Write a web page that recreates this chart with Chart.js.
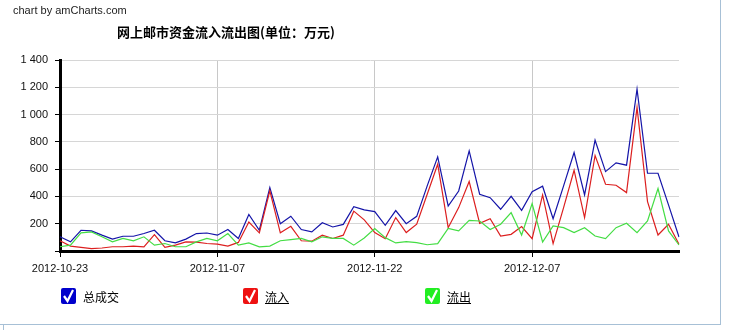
<!DOCTYPE html>
<html>
<head>
<meta charset="utf-8">
<script src="https://cdn.jsdelivr.net/npm/chart.js@4"></script>
<style>
  body { margin: 0; background: #fff; font-family: "Liberation Sans", Arial, sans-serif; }
  #wrap { position: relative; width: 739px; height: 330px; overflow: hidden; }
  #frame { position: absolute; left: -2px; top: -2px; width: 722px; height: 326px; border-right: 1px solid #a7c0d6; border-bottom: 1px solid #a7c0d6; }
  #stub { position: absolute; left: 3px; top: 325px; width: 1px; height: 6px; background: #a7c0d6; }
  canvas { position: absolute; left: 0; top: 0; }
  .credit { position: absolute; left: 13px; top: 4px; font-size: 11px; color: #222; }
  .title { position: absolute; left: 117px; top: 22px; font-size: 13px; font-weight: bold; color: #000;
           font-family: "Noto Sans CJK SC", sans-serif; }
  .legend-item { position: absolute; top: 288px; height: 16px; font-size: 12px; color: #000;
                 font-family: "Noto Sans CJK SC", sans-serif; }
  .legend-item .box { position: absolute; left: 0; top: 0; width: 15px; height: 16px; border-radius: 2px; }
  .legend-item .txt { position: absolute; left: 22px; top: 0; line-height: 17px; white-space: nowrap; }
</style>
</head>
<body>
<div id="wrap">
  <div id="frame"></div>
  <div id="stub"></div>
  <canvas id="flowChart" width="739" height="330"></canvas>
  <div class="credit">chart by amCharts.com</div>
  <div class="title">网上邮市资金流入流出图(单位：万元)</div>
  <div id="legend"></div>
</div>
<script>
// dates 2012-10-23 .. 2012-12-21, one point per day
const startDate = new Date(2012, 9, 23);
const dates = [];
for (let i = 0; i < 60; i++) {
  const d = new Date(startDate.getTime() + i * 86400000);
  dates.push(d.getFullYear() + '-' + String(d.getMonth() + 1).padStart(2, '0') + '-' + String(d.getDate()).padStart(2, '0'));
}

const seriesNames = ['总成交', '流入', '流出'];
const seriesColors = ['#1414a8', '#dc1f1f', '#44dd44'];
const legendColors = ['#0000cc', '#ee1111', '#22ee22'];

const total = [104, 67, 152, 147, 116, 87, 108, 108, 128, 152,
               75, 60, 87, 128, 132, 116, 157, 92, 268, 152,
               465, 200, 255, 157, 140, 207, 176, 195, 325, 301,
               289, 188, 296, 200, 254, 477, 690, 330, 440, 734,
               416, 391, 306, 401, 298, 435, 475, 237, 477, 722,
               411, 812, 582, 646, 629, 1187, 570, 570, 338, 103];

const inflow = [75, 36, 27, 17, 22, 31, 31, 36, 31, 120,
                27, 43, 67, 65, 55, 50, 36, 63, 212, 133,
                441, 133, 181, 75, 72, 116, 92, 116, 292, 228,
                135, 90, 245, 135, 196, 416, 636, 171, 318, 509,
                203, 237, 110, 122, 179, 90, 411, 54, 318, 592,
                245, 700, 489, 482, 428, 1052, 362, 117, 196, 49];

const outflow = [31, 43, 133, 140, 104, 67, 92, 75, 104, 43,
                 55, 31, 31, 67, 92, 75, 128, 43, 60, 31,
                 36, 75, 84, 92, 67, 104, 92, 92, 43, 95,
                 164, 98, 59, 69, 61, 46, 54, 166, 147, 225,
                 220, 157, 196, 281, 117, 347, 66, 184, 171, 135,
                 171, 110, 91, 171, 203, 135, 220, 458, 147, 44];

const yTicks = [0, 200, 400, 600, 800, 1000, 1200, 1400];
const labelEvery = 15;

const ctx = document.getElementById('flowChart').getContext('2d');

new Chart(ctx, {
  type: 'line',
  data: {
    labels: dates,
    datasets: [total, inflow, outflow].map((vals, i) => ({
      label: seriesNames[i],
      data: vals,
      borderColor: seriesColors[i],
      borderWidth: 1.2,
      pointRadius: 0,
      tension: 0,
      fill: false
    })).reverse()
  },
  options: {
    responsive: false,
    animation: false,
    layout: { padding: { left: 0, right: 60, top: 60, bottom: 49 } },
    plugins: { legend: { display: false }, tooltip: { enabled: false } },
    scales: {
      x: {
        type: 'category',
        offset: false,
        afterFit: (s) => { s.height = 30; },
        border: { color: '#000', width: 3 },
        grid: {
          color: (c) => c.index % labelEvery === 0 && c.index > 0 ? '#c8c8c8' : 'transparent',
          tickColor: (c) => c.index % labelEvery === 0 ? '#000' : 'transparent',
          tickLength: 6
        },
        ticks: {
          autoSkip: false,
          maxRotation: 0,
          padding: 5,
          color: '#111',
          font: { family: '"Liberation Sans", Arial', size: 11 },
          callback: (v, i) => i % labelEvery === 0 ? dates[i] : ''
        }
      },
      y: {
        min: yTicks[0],
        max: yTicks[yTicks.length - 1],
        afterFit: (s) => { s.width = 60; },
        afterBuildTicks: (s) => { s.ticks = yTicks.map(v => ({ value: v })); },
        border: { color: '#000', width: 3 },
        grid: {
          color: (c) => c.tick && c.tick.value === 0 ? 'transparent' : '#d6d6d6',
          tickColor: '#000',
          tickLength: 5
        },
        ticks: {
          padding: 7,
          color: '#111',
          font: { family: '"Liberation Sans", Arial', size: 11 },
          callback: (v) => v === 0 ? '' : String(v).replace(/\B(?=(\d{3})+(?!\d))/g, ' ')
        }
      }
    }
  }
});

// legend with check boxes
const legendX = [61, 243, 425];
const legendEl = document.getElementById('legend');
seriesNames.forEach((name, i) => {
  const item = document.createElement('div');
  item.className = 'legend-item';
  item.style.left = legendX[i] + 'px';
  item.innerHTML =
    '<div class="box" style="background:' + legendColors[i] + '">' +
    '<svg width="15" height="16" viewBox="0 0 15 16"><path d="M3 8 L6.5 13 L12 2" stroke="#fff" stroke-width="2.2" fill="none"/></svg></div>' +
    '<span class="txt" style="text-decoration:' + (i === 0 ? 'none' : 'underline') + '">' + name + '</span>';
  legendEl.appendChild(item);
});
</script>
</body>
</html>
